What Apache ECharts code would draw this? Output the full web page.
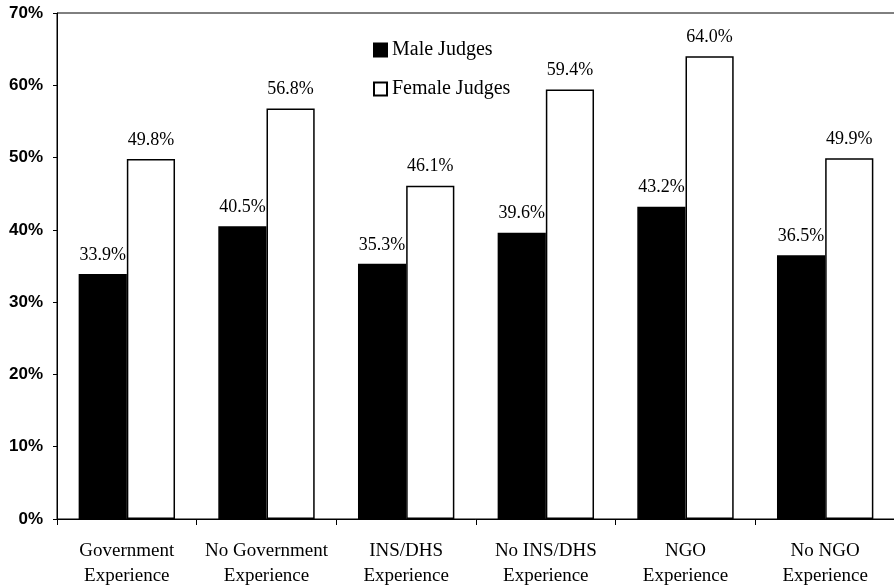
<!DOCTYPE html>
<html><head><meta charset="utf-8">
<script src="https://cdn.jsdelivr.net/npm/echarts@6/dist/echarts.min.js"></script>
<style>html,body{margin:0;padding:0;background:#fff}#c{width:894px;height:586px}</style>
</head><body><div id="c"></div>
<script>
const categories = ["Government\nExperience","No Government\nExperience","INS/DHS\nExperience","No INS/DHS\nExperience","NGO\nExperience","No NGO\nExperience"];
const maleJudges = [33.9, 40.5, 35.3, 39.6, 43.2, 36.5];
const femaleJudges = [49.8, 56.8, 46.1, 59.4, 64.0, 49.9];
const yTicks = [0,10,20,30,40,50,60,70];

const chart = echarts.init(document.getElementById('c'), null, {renderer:'canvas'});
const serif = '"Liberation Serif","Times New Roman",serif';
const labelCfg = {show:true, position:'top', distance:10, color:'#000', fontFamily:serif, fontSize:18,
  formatter: p => p.value.toFixed(1) + '%'};
chart.setOption({
  animation:false,
  backgroundColor:'#fff',
  grid:{left:57, right:-1, top:13, bottom:67, outerBoundsMode:'none', containLabel:false,
    show:true, borderColor:'#000', borderWidth:1, backgroundColor:'transparent'},
  legend:{orient:'vertical', left:368, top:35, itemGap:19, itemWidth:13, itemHeight:13, icon:'rect',
    textStyle:{fontFamily:serif, fontSize:20, color:'#000'},
    data:[{name:'Male Judges'},{name:'Female Judges'}]},
  xAxis:{type:'category', data:categories,
    axisLine:{lineStyle:{color:'#000', width:1}},
    axisTick:{show:true, interval:0, length:6, inside:false, lineStyle:{color:'#000'}},
    axisLabel:{interval:0, hideOverlap:false, color:'#000', fontFamily:serif, fontSize:19, lineHeight:25, margin:20}},
  yAxis:{type:'value', min:0, max:70, interval:10,
    axisLine:{show:true, lineStyle:{color:'#000', width:1}},
    axisTick:{show:true, length:4, lineStyle:{color:'#000'}},
    splitLine:{show:false},
    axisLabel:{color:'#000', fontFamily:'"Liberation Sans",Arial,sans-serif', fontWeight:'bold', fontSize:17, margin:14,
      formatter: v => yTicks.includes(v) ? v + '%' : ''}},
  series:[
    {name:'Male Judges', type:'bar', data:maleJudges, barGap:'0%', barCategoryGap:'31%',
      itemStyle:{color:'#000', borderColor:'#000', borderWidth:1.5}, label:labelCfg},
    {name:'Female Judges', type:'bar', data:femaleJudges,
      itemStyle:{color:'#fff', borderColor:'#000', borderWidth:1.5}, label:labelCfg}
  ]
});
</script></body></html>
